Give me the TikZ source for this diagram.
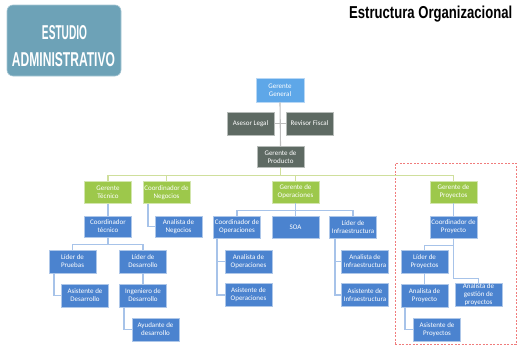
\documentclass[tikz,border=0pt]{standalone}
\usepackage{fontspec}
\usepackage{graphicx}
\setmainfont{Carlito}
\newfontfamily\condfont{Liberation Sans}
\definecolor{cblue}{HTML}{4B83CF}
\definecolor{ctop}{HTML}{5EA7E8}
\definecolor{cgreen}{HTML}{9DC84B}
\definecolor{cgrey}{HTML}{5E6A63}
\definecolor{lblue}{HTML}{A7C3E9}
\definecolor{lgreen}{HTML}{CFDF9C}
\definecolor{lgrey}{HTML}{BDBDBD}
\definecolor{chead}{HTML}{6DA2B7}
\definecolor{cred}{HTML}{F07C7C}
\tikzset{
  bx/.style={rectangle, minimum width=47pt, minimum height=22pt, inner sep=0.5pt,
    align=center, text=white, font=\fontsize{7}{8}\selectfont, line width=0.6pt},
  bluebx/.style={bx, fill=cblue, draw=cblue!45!white},
  topbx/.style={bx, fill=ctop, draw=ctop!45!white},
  greenbx/.style={bx, fill=cgreen, draw=cgreen!45!white},
  greybx/.style={bx, fill=cgrey, draw=cgrey!45!white},
  conn/.style={line width=1.1pt, draw=lblue},
  gconn/.style={line width=1.1pt, draw=lgreen},
  kconn/.style={line width=1.1pt, draw=lgrey},
}
\begin{document}
\begin{tikzpicture}[x=1pt,y=-1pt]
\useasboundingbox (0,0) rectangle (532,346);
% header
\node[rectangle, rounded corners=6pt, fill=chead, draw=chead!60!white, line width=0.6pt,
  minimum width=114pt, minimum height=71pt] (hd) at (64,40.5) {};
\node[anchor=base, inner sep=0, text=white] (hd1) at (64.5,39) {\resizebox{45pt}{14pt}{\condfont\bfseries ESTUDIO}};
\node[anchor=base, inner sep=0, text=white] (hd2) at (63.5,66) {\resizebox{103pt}{14pt}{\condfont\bfseries ADMINISTRATIVO}};
\node[anchor=base west, inner sep=0] (title) at (349,18) {\resizebox{163pt}{12.5pt}{\condfont\bfseries Estructura Organizacional}};
% frame
\node[draw=cred, dash pattern=on 2pt off 1.5pt, line width=0.8pt, minimum width=121pt, minimum height=181pt, inner sep=0] (frame) at (455.5,253.5) {};
% nodes
\node[topbx, minimum width=48pt, minimum height=24pt] (gg) at (280,90) {Gerente\\General};
\node[greybx, minimum height=23pt] (al) at (250.5,123.5) {Asesor Legal};
\node[greybx, minimum height=23pt] (rf) at (309.5,123.5) {Revisor Fiscal};
\node[greybx, minimum height=21pt] (gp) at (280.5,157) {Gerente de\\Producto};

\node[greenbx] (gt) at (108,192.5) {Gerente\\Técnico};
\node[greenbx] (cn) at (166.5,192.5) {Coordinador de\\Negocios};
\node[greenbx] (go) at (295.5,192) {Gerente de\\Operaciones};
\node[greenbx] (gpy) at (453.5,192) {Gerente de\\Proyectos};

\node[bluebx, minimum height=21pt] (ct) at (108,226.5) {Coordinador\\técnico};
\node[bluebx, minimum height=21pt] (an) at (178.5,226.5) {Analista de\\Negocios};
\node[bluebx] (co) at (237,227) {Coordinador de\\Operaciones};
\node[bluebx] (soa) at (295.5,227) {SOA};
\node[bluebx] (li) at (353,227) {Líder de\\Infraestructura};
\node[bluebx] (cp) at (453.5,227) {Coordinador de\\Proyecto};

\node[bluebx, minimum height=23pt] (lp) at (72.5,261.5) {Líder de\\Pruebas};
\node[bluebx, minimum height=23pt] (ld) at (143,261.5) {Líder de\\Desarrollo};
\node[bluebx, minimum height=23pt] (ad) at (85,295.5) {Asistente de\\Desarrollo};
\node[bluebx, minimum height=23pt] (id) at (143,295.5) {Ingeniero de\\Desarrollo};
\node[bluebx, minimum height=23pt] (ayd) at (155.5,329.5) {Ayudante de\\desarrollo};

\node[bluebx, minimum height=23pt] (aop) at (248.5,261.5) {Analista de\\Operaciones};
\node[bluebx, minimum height=23pt] (asop) at (248.5,295) {Asistente de\\Operaciones};
\node[bluebx, minimum height=23pt] (ai) at (365,261.5) {Analista de\\Infraestructura};
\node[bluebx, minimum height=23pt] (asi) at (365,295) {Asistente de\\Infraestructura};

\node[bluebx, minimum height=23pt] (lpy) at (424.5,261.5) {Líder de\\Proyectos};
\node[bluebx, minimum height=23pt] (apy) at (424.5,295.5) {Analista de\\Proyecto};
\node[bluebx, minimum height=23pt] (agp) at (478.5,294.5) {Analista de\\gestión de\\proyectos};
\node[bluebx, minimum height=23pt] (aspy) at (437,329.5) {Asistente de\\Proyectos};

% connectors (drawn behind)
\begin{scope}[on background layer/.try]
\end{scope}
\draw[kconn] (gg.south) -- (gp.north);
\draw[kconn] (al.east) -- (rf.west);
\draw[gconn] (gp.south) -- ++(0,8) -| (gt.north);
\draw[gconn] (gp.south) -- ++(0,8) -| (cn.north);
\draw[gconn] (gp.south) -- ++(0,8) -| (go.north);
\draw[gconn] (gp.south) -- ++(0,8) -| (gpy.north);

\draw[conn] (gt.south) -- (ct.north);
\draw[conn] ([xshift=-18.5pt]cn.south) |- (an.west);
\draw[conn] (go.south) -- ++(0,7) -| (co.north);
\draw[conn] (go.south) -- (soa.north);
\draw[conn] (go.south) -- ++(0,7) -| (li.north);
\draw[conn] (gpy.south) -- (cp.north);

\draw[conn] (ct.south) -- ++(0,7) -| (lp.north);
\draw[conn] (ct.south) -- ++(0,7) -| (ld.north);
\draw[conn] ([xshift=-18.5pt]lp.south) |- (ad.west);
\draw[conn] (ld.south) -- (id.north);
\draw[conn] ([xshift=-19pt]id.south) |- (ayd.west);

\draw[conn] ([xshift=-20pt]co.south) |- (aop.west);
\draw[conn] ([xshift=-20pt]co.south) |- (asop.west);
\draw[conn] ([xshift=-18pt]li.south) |- (ai.west);
\draw[conn] ([xshift=-18pt]li.south) |- (asi.west);

\draw[conn] (cp.south) -- ++(0,7) -| (lpy.north);
\draw[conn] (cp.south) -- ++(0,40) -| (agp.north);
\draw[conn] (lpy.south) -- (apy.north);
\draw[conn] ([xshift=-19.5pt]apy.south) |- (aspy.west);
\end{tikzpicture}
\end{document}
